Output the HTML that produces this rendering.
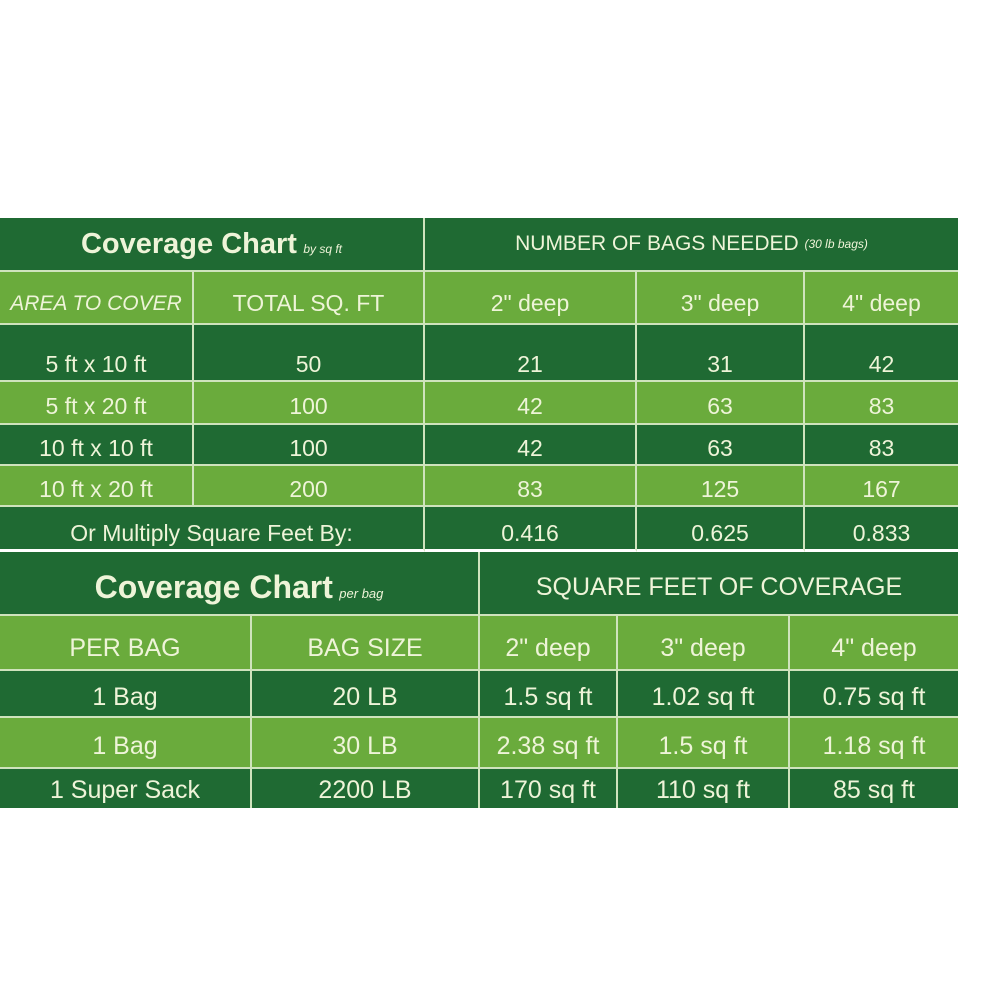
<!DOCTYPE html>
<html><head><style>
body{margin:0;width:1000px;height:1000px;background:#fff;position:relative;overflow:hidden;font-family:"Liberation Sans",sans-serif;}
.c{position:absolute;box-sizing:border-box;display:flex;align-items:center;justify-content:center;color:#eef4d8;font-size:23px;border-right:2px solid #cfe3bd;border-bottom:2px solid #cfe3bd;}
.d{background:#1f6a33}.l{background:#6aab3c}
.b{align-items:flex-end;padding-bottom:2px}
.p{padding-top:12px}
.q{padding-top:8px}
</style></head><body>
<!-- top table -->
<div class="c d" style="left:0;top:218px;width:425px;height:54px;"><b style="font-size:29px">Coverage Chart</b>&nbsp;<i style="font-size:12px;margin-top:10px">by sq ft</i></div>
<div class="c d" style="left:425px;top:218px;width:533px;height:54px;border-right:none;font-size:21px">NUMBER OF BAGS NEEDED&nbsp;<i style="font-size:12px">(30 lb bags)</i></div>
<div class="c l p" style="left:0;top:272px;width:194px;height:53px;font-size:21px"><i>AREA TO COVER</i></div>
<div class="c l p" style="left:194px;top:272px;width:231px;height:53px;">TOTAL SQ. FT</div>
<div class="c l p" style="left:425px;top:272px;width:212px;height:53px;">2" deep</div>
<div class="c l p" style="left:637px;top:272px;width:168px;height:53px;">3" deep</div>
<div class="c l p" style="left:805px;top:272px;width:153px;height:53px;border-right:none">4" deep</div>

<div class="c d b" style="left:0;top:325px;width:194px;height:57px;">5 ft x 10 ft</div>
<div class="c d b" style="left:194px;top:325px;width:231px;height:57px;">50</div>
<div class="c d b" style="left:425px;top:325px;width:212px;height:57px;">21</div>
<div class="c d b" style="left:637px;top:325px;width:168px;height:57px;">31</div>
<div class="c d b" style="left:805px;top:325px;width:153px;height:57px;border-right:none">42</div>

<div class="c l q" style="left:0;top:382px;width:194px;height:43px;">5 ft x 20 ft</div>
<div class="c l q" style="left:194px;top:382px;width:231px;height:43px;">100</div>
<div class="c l q" style="left:425px;top:382px;width:212px;height:43px;">42</div>
<div class="c l q" style="left:637px;top:382px;width:168px;height:43px;">63</div>
<div class="c l q" style="left:805px;top:382px;width:153px;height:43px;border-right:none">83</div>

<div class="c d q" style="left:0;top:425px;width:194px;height:41px;">10 ft x 10 ft</div>
<div class="c d q" style="left:194px;top:425px;width:231px;height:41px;">100</div>
<div class="c d q" style="left:425px;top:425px;width:212px;height:41px;">42</div>
<div class="c d q" style="left:637px;top:425px;width:168px;height:41px;">63</div>
<div class="c d q" style="left:805px;top:425px;width:153px;height:41px;border-right:none">83</div>

<div class="c l q" style="left:0;top:466px;width:194px;height:41px;">10 ft x 20 ft</div>
<div class="c l q" style="left:194px;top:466px;width:231px;height:41px;">200</div>
<div class="c l q" style="left:425px;top:466px;width:212px;height:41px;">83</div>
<div class="c l q" style="left:637px;top:466px;width:168px;height:41px;">125</div>
<div class="c l q" style="left:805px;top:466px;width:153px;height:41px;border-right:none">167</div>

<div class="c d b" style="left:0;top:507px;width:425px;height:45px;border-bottom:3px solid #fff">Or Multiply Square Feet By:</div>
<div class="c d b" style="left:425px;top:507px;width:212px;height:45px;border-bottom:3px solid #fff">0.416</div>
<div class="c d b" style="left:637px;top:507px;width:168px;height:45px;border-bottom:3px solid #fff">0.625</div>
<div class="c d b" style="left:805px;top:507px;width:153px;height:45px;border-right:none;border-bottom:3px solid #fff">0.833</div>

<!-- bottom table -->
<div class="c d q" style="left:0;top:552px;width:480px;height:64px;"><b style="font-size:32px">Coverage Chart</b>&nbsp;<i style="font-size:13px;margin-top:12px">per bag</i></div>
<div class="c d q" style="left:480px;top:552px;width:478px;height:64px;border-right:none;font-size:25px">SQUARE FEET OF COVERAGE</div>
<div class="c l p" style="left:0;top:616px;width:252px;height:55px;font-size:25px">PER BAG</div>
<div class="c l p" style="left:252px;top:616px;width:228px;height:55px;font-size:25px">BAG SIZE</div>
<div class="c l p" style="left:480px;top:616px;width:138px;height:55px;font-size:25px">2" deep</div>
<div class="c l p" style="left:618px;top:616px;width:172px;height:55px;font-size:25px">3" deep</div>
<div class="c l p" style="left:790px;top:616px;width:168px;height:55px;font-size:25px;border-right:none">4" deep</div>

<div class="c d q" style="left:0;top:671px;width:252px;height:47px;font-size:25px">1 Bag</div>
<div class="c d q" style="left:252px;top:671px;width:228px;height:47px;font-size:25px">20 LB</div>
<div class="c d q" style="left:480px;top:671px;width:138px;height:47px;font-size:25px">1.5 sq ft</div>
<div class="c d q" style="left:618px;top:671px;width:172px;height:47px;font-size:25px">1.02 sq ft</div>
<div class="c d q" style="left:790px;top:671px;width:168px;height:47px;font-size:25px;border-right:none">0.75 sq ft</div>

<div class="c l q" style="left:0;top:718px;width:252px;height:51px;font-size:25px">1 Bag</div>
<div class="c l q" style="left:252px;top:718px;width:228px;height:51px;font-size:25px">30 LB</div>
<div class="c l q" style="left:480px;top:718px;width:138px;height:51px;font-size:25px">2.38 sq ft</div>
<div class="c l q" style="left:618px;top:718px;width:172px;height:51px;font-size:25px">1.5 sq ft</div>
<div class="c l q" style="left:790px;top:718px;width:168px;height:51px;font-size:25px;border-right:none">1.18 sq ft</div>

<div class="c d" style="left:0;top:769px;width:252px;height:39px;font-size:25px;border-bottom:none;padding-top:4px">1 Super Sack</div>
<div class="c d" style="left:252px;top:769px;width:228px;height:39px;font-size:25px;border-bottom:none;padding-top:4px">2200 LB</div>
<div class="c d" style="left:480px;top:769px;width:138px;height:39px;font-size:25px;border-bottom:none;padding-top:4px">170 sq ft</div>
<div class="c d" style="left:618px;top:769px;width:172px;height:39px;font-size:25px;border-bottom:none;padding-top:4px">110 sq ft</div>
<div class="c d" style="left:790px;top:769px;width:168px;height:39px;font-size:25px;border-right:none;border-bottom:none;padding-top:4px">85 sq ft</div>
</body></html>
